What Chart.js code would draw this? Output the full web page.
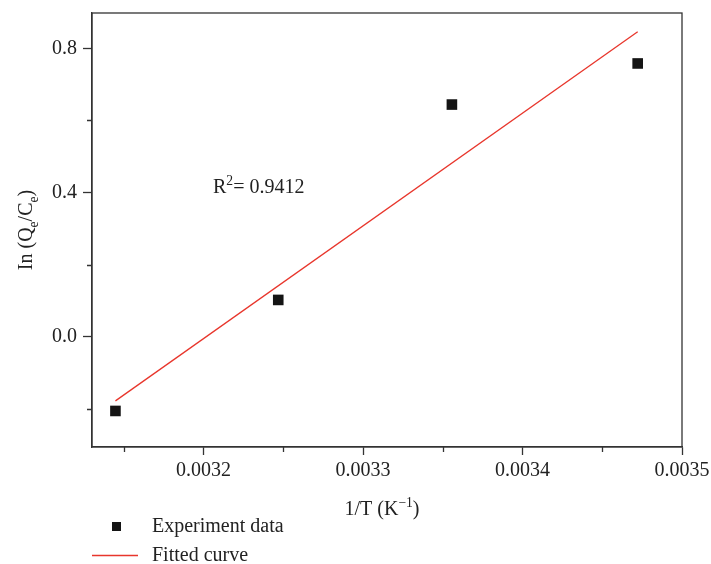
<!DOCTYPE html>
<html>
<head>
<meta charset="utf-8">
<script src="https://cdn.jsdelivr.net/npm/chart.js@4.4.0/dist/chart.umd.min.js"></script>
<style>
  html, body { margin: 0; padding: 0; background: #fff; }
  #wrap { width: 711px; height: 564px; }
</style>
</head>
<body>
<div id="wrap"><canvas id="chart" width="711" height="564"></canvas></div>
<script>
'use strict';

// data
var invTemp = [0.0031447, 0.0032468, 0.0033557, 0.0034722];
var lnRatio = [-0.206, 0.102, 0.644, 0.758];
var fitX = [0.0031447, 0.0034722];
var fitY = [-0.178, 0.846];

var xTicks = [0.0032, 0.0033, 0.0034, 0.0035];
var xMinor = [0.00315, 0.00325, 0.00335, 0.00345];
var yTicks = [0.0, 0.4, 0.8];
var yMinor = [-0.2, 0.2, 0.6];

var FONT = '"Liberation Serif", "DejaVu Serif", serif';
var AXIS = '#333';
var RED = '#e8362c';

function rich(ctx, parts, x, y, size, align) {
    // parts: [text, mode] where mode is '', 'sub' or 'sup'
    var widths = parts.map(function (p) {
        ctx.font = (p[1] ? size * 0.68 : size) + 'px ' + FONT;
        return ctx.measureText(p[0]).width;
    });
    var total = widths.reduce(function (a, b) { return a + b; }, 0);
    var cx = align === 'center' ? x - total / 2 : x;
    parts.forEach(function (p, i) {
        ctx.font = (p[1] ? size * 0.68 : size) + 'px ' + FONT;
        var dy = p[1] === 'sub' ? size * 0.28 : (p[1] === 'sup' ? -size * 0.38 : 0);
        ctx.fillText(p[0], cx, y + dy);
        cx += widths[i];
    });
}

var decor = {
    id: 'decor',
    afterDraw: function (chart) {
        var ctx = chart.ctx;
        var a = chart.chartArea;
        var xs = chart.scales.x, ys = chart.scales.y;
        ctx.save();

        // frame
        ctx.strokeStyle = AXIS;
        ctx.lineWidth = 1.3;
        ctx.strokeRect(a.left, a.top, a.right - a.left, a.bottom - a.top);

        // minor ticks
        ctx.beginPath();
        xMinor.forEach(function (v) {
            var px = Math.round(xs.getPixelForValue(v)) + 0.5;
            ctx.moveTo(px, a.bottom);
            ctx.lineTo(px, a.bottom + 5);
        });
        yMinor.forEach(function (v) {
            var py = Math.round(ys.getPixelForValue(v)) + 0.5;
            ctx.moveTo(a.left, py);
            ctx.lineTo(a.left - 5, py);
        });
        ctx.stroke();

        ctx.fillStyle = '#222';
        ctx.textBaseline = 'alphabetic';
        ctx.textAlign = 'left';

        // axis titles
        rich(ctx, [['1/T (K', ''], ['\u22121', 'sup'], [')', '']], (a.left + a.right) / 2 - 5, 515, 20, 'center');
        ctx.save();
        ctx.translate(32, (a.top + a.bottom) / 2);
        ctx.rotate(-Math.PI / 2);
        rich(ctx, [['In (Q', ''], ['e', 'sub'], ['/C', ''], ['e', 'sub'], [')', '']], 0, 0, 20, 'center');
        ctx.restore();

        // R squared note
        rich(ctx, [['R', ''], ['2', 'sup'], ['= 0.9412', '']], 213, 193, 20, 'left');

        // legend
        var ds = chart.data.datasets;
        ctx.fillStyle = ds[0].backgroundColor;
        ctx.fillRect(112, 522, 9, 9);
        ctx.strokeStyle = ds[1].borderColor;
        ctx.lineWidth = 1.3;
        ctx.beginPath();
        ctx.moveTo(92, 555.5);
        ctx.lineTo(138, 555.5);
        ctx.stroke();
        ctx.fillStyle = '#222';
        ctx.font = '20px ' + FONT;
        ctx.fillText(ds[0].label, 152, 532);
        ctx.fillText(ds[1].label, 152, 561);

        ctx.restore();
    }
};

var ctx = document.getElementById('chart').getContext('2d');
var chart = new Chart(ctx, {
    type: 'scatter',
    data: {
        datasets: [
            {
                label: 'Experiment data',
                data: invTemp.map(function (v, i) { return {x: v, y: lnRatio[i]}; }),
                pointStyle: 'rect',
                pointRadius: 7.5,
                pointHoverRadius: 7.5,
                borderWidth: 0,
                backgroundColor: '#141414',
                borderColor: '#141414'
            },
            {
                label: 'Fitted curve',
                data: fitX.map(function (v, i) { return {x: v, y: fitY[i]}; }),
                showLine: true,
                pointRadius: 0,
                borderColor: RED,
                backgroundColor: RED,
                borderWidth: 1.3
            }
        ]
    },
    options: {
        responsive: false,
        animation: false,
        devicePixelRatio: 1,
        layout: { padding: { left: 0, top: 13, right: 29, bottom: 0 } },
        plugins: {
            legend: { display: false },
            tooltip: { enabled: false }
        },
        scales: {
            x: {
                type: 'linear',
                min: 0.00313,
                max: 0.0035,
                afterBuildTicks: function (s) { s.ticks = xTicks.map(function (v) { return {value: v}; }); },
                afterFit: function (s) {
                    s.height = 117;
                    s.paddingLeft = 0;
                    s.paddingRight = 0;
                },
                ticks: {
                    color: '#222',
                    font: { family: FONT, size: 20 },
                    padding: 4,
                    maxRotation: 0,
                    callback: function (v) { return Number(v).toFixed(4); }
                },
                grid: { drawOnChartArea: false, tickLength: 8, color: AXIS, tickWidth: 1.3 },
                border: { color: AXIS, width: 1.3 }
            },
            y: {
                type: 'linear',
                min: -0.306,
                max: 0.898,
                afterBuildTicks: function (s) { s.ticks = yTicks.map(function (v) { return {value: v}; }); },
                afterFit: function (s) {
                    s.width = 92;
                    s.paddingTop = 0;
                    s.paddingBottom = 0;
                },
                ticks: {
                    color: '#222',
                    font: { family: FONT, size: 20 },
                    padding: 6,
                    callback: function (v) { return Number(v).toFixed(1); }
                },
                grid: { drawOnChartArea: false, tickLength: 9, color: AXIS, tickWidth: 1.3 },
                border: { color: AXIS, width: 1.3 }
            }
        }
    },
    plugins: [decor]
});
</script>
</body>
</html>
